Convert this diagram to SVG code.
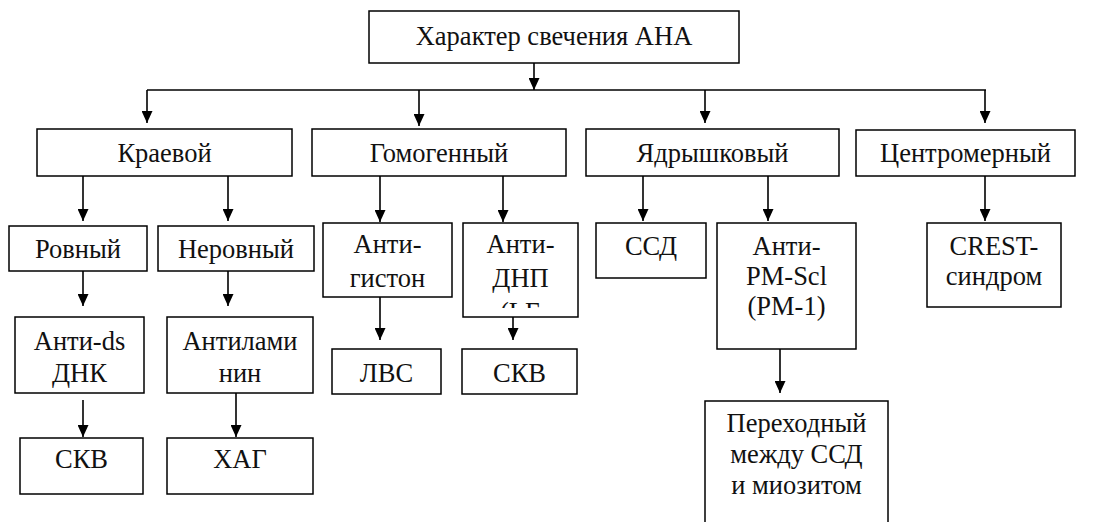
<svg xmlns="http://www.w3.org/2000/svg" width="1099" height="522" viewBox="0 0 1099 522">
<style>
rect.b{fill:#fff;stroke:#000;stroke-width:1.5}
text{font-family:"Liberation Serif","DejaVu Serif","Times New Roman",serif;font-size:26.5px;fill:#111;text-anchor:middle}
.c line{stroke:#000;stroke-width:1.6}
.c line.a{marker-end:url(#ah)}
</style>
<defs>
<marker id="ah" markerUnits="userSpaceOnUse" markerWidth="12" markerHeight="11" viewBox="0 0 12 11" refX="12" refY="5.5" orient="auto">
<path d="M0,0 L12,5.5 L0,11 Z" fill="#000"/>
</marker>
<clipPath id="dnpclip"><rect x="463" y="223" width="115" height="85"/></clipPath>
</defs>
<rect width="1099" height="522" fill="#fff"/>
<g class="c" id="connectors">
<line class="a" x1="534" y1="63" x2="534" y2="90"/>
<line x1="147" y1="90" x2="986" y2="90"/>
<line class="a" x1="147" y1="90" x2="147" y2="123"/>
<line class="a" x1="419" y1="90" x2="419" y2="126"/>
<line class="a" x1="705" y1="90" x2="705" y2="123"/>
<line class="a" x1="985" y1="90" x2="985" y2="123"/>
<line class="a" x1="83" y1="176" x2="83" y2="221"/>
<line class="a" x1="228" y1="176" x2="228" y2="221"/>
<line class="a" x1="83" y1="271" x2="83" y2="306"/>
<line class="a" x1="228" y1="271" x2="228" y2="306"/>
<line class="a" x1="83" y1="400" x2="83" y2="437"/>
<line class="a" x1="236" y1="393" x2="236" y2="437"/>
<line class="a" x1="380" y1="176" x2="380" y2="222"/>
<line class="a" x1="503" y1="176" x2="503" y2="222"/>
<line class="a" x1="380" y1="297" x2="380" y2="340"/>
<line class="a" x1="513" y1="317" x2="513" y2="340"/>
<line class="a" x1="643" y1="176" x2="643" y2="221"/>
<line class="a" x1="768" y1="176" x2="768" y2="221"/>
<line class="a" x1="780" y1="349" x2="780" y2="393"/>
<line class="a" x1="985" y1="176" x2="985" y2="221"/>
</g>
<g id="root"><rect class="b" x="369" y="11" width="370" height="52"/><text x="554" y="45">Характер свечения АНА</text></g>
<g id="kraevoy"><rect class="b" x="37" y="129" width="255" height="47"/><text x="164.5" y="162">Краевой</text></g>
<g id="gomogenny"><rect class="b" x="312" y="129" width="254" height="47"/><text x="439" y="162">Гомогенный</text></g>
<g id="yadryshkovy"><rect class="b" x="586" y="129" width="253" height="47"/><text x="712.5" y="162">Ядрышковый</text></g>
<g id="centromerny"><rect class="b" x="856" y="130" width="219" height="46"/><text x="965.5" y="162">Центромерный</text></g>
<g id="rovny"><rect class="b" x="9" y="226" width="138" height="45"/><text x="78" y="258">Ровный</text></g>
<g id="nerovny"><rect class="b" x="158" y="226" width="156" height="45"/><text x="236" y="258">Неровный</text></g>
<g id="antids"><rect class="b" x="15" y="317" width="129" height="76"/><text x="79.5" y="350">Анти-ds</text><text x="79.5" y="382">ДНК</text></g>
<g id="antilaminin"><rect class="b" x="167" y="317" width="146" height="76"/><text x="240" y="350">Антилами</text><text x="240" y="382">нин</text></g>
<g id="skv1"><rect class="b" x="20" y="438" width="123" height="56"/><text x="81.5" y="468">СКВ</text></g>
<g id="hag"><rect class="b" x="167" y="438" width="146" height="56"/><text x="240" y="468">ХАГ</text></g>
<g id="antigiston"><rect class="b" x="323" y="223" width="129" height="74"/><text x="387.5" y="253">Анти-</text><text x="387.5" y="287">гистон</text></g>
<g id="antidnp"><rect class="b" x="463" y="223" width="115" height="94"/><g clip-path="url(#dnpclip)"><text x="520.5" y="253">Анти-</text><text x="520.5" y="287">ДНП</text><text x="520.5" y="321">(LE</text></g></g>
<g id="lvs"><rect class="b" x="332" y="349" width="109" height="45"/><text x="386.5" y="382">ЛВС</text></g>
<g id="skv2"><rect class="b" x="462" y="349" width="115" height="45"/><text x="519.5" y="382">СКВ</text></g>
<g id="ssd"><rect class="b" x="596" y="223" width="110" height="55"/><text x="651" y="255">ССД</text></g>
<g id="antipm"><rect class="b" x="717" y="223" width="139" height="126"/><text x="786.5" y="255">Анти-</text><text x="786.5" y="285">PM-Scl</text><text x="786.5" y="315">(PM-1)</text></g>
<g id="perehodny"><rect class="b" x="705" y="401" width="183" height="130"/><text x="796.5" y="432">Переходный</text><text x="796.5" y="463">между ССД</text><text x="796.5" y="494">и миозитом</text></g>
<g id="crest"><rect class="b" x="927" y="223" width="134" height="84"/><text x="994" y="255">CREST-</text><text x="994" y="285">синдром</text></g>
</svg>
